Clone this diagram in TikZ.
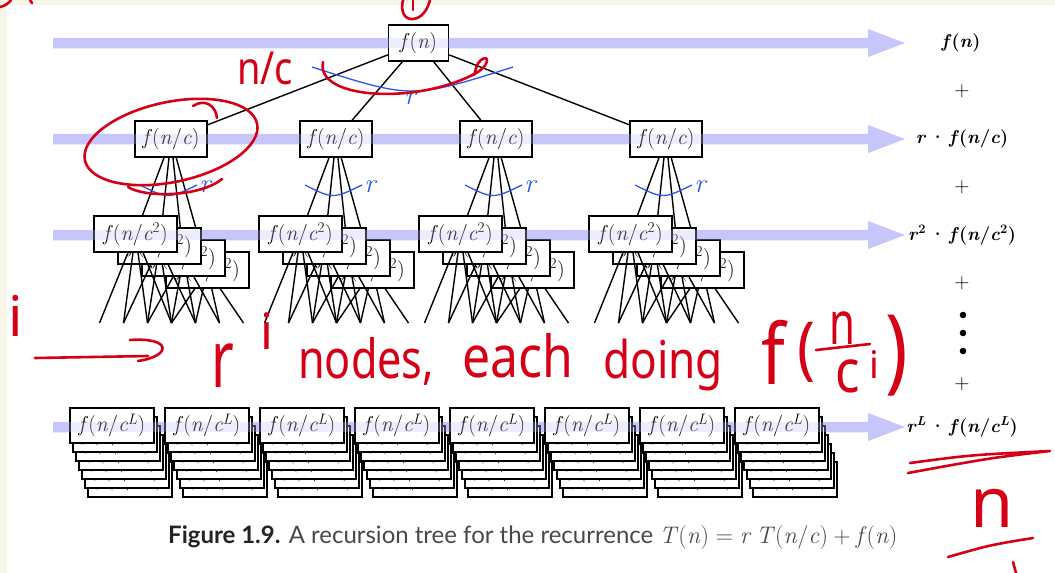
\documentclass[tikz,border=0pt]{standalone}
\usepackage{fontspec}
\newfontfamily\capfont{Lato}
\newfontfamily\handfont{Noto Sans}
\usetikzlibrary{calc}
\definecolor{band}{RGB}{198,198,250}
\definecolor{arcblue}{RGB}{45,85,235}
\definecolor{pen}{RGB}{214,0,22}
\definecolor{cream}{RGB}{247,244,232}
\definecolor{capgray}{RGB}{72,72,72}
\definecolor{capdark}{RGB}{35,35,35}
\newcommand\setfs[1]{\fontsize{#1}{#1}\selectfont}
\newcommand\vi[1]{\textit{#1}}
\newcommand\sups[1]{\textsuperscript{#1}}
\newcommand\cdt{\hspace{0.18em}·\hspace{0.18em}}
\pgfdeclarelayer{bands}
\pgfdeclarelayer{edges}
\pgfsetlayers{bands,edges,main}
\tikzset{
  box/.style={draw, line width=1.5pt, fill=white, inner sep=0pt, minimum height=36pt, font=\setfs{21.5}},
  rootbox/.style={box, minimum width=60pt},
  boxa/.style={box, minimum width=72pt},
  boxb/.style={box, minimum width=83pt},
  boxl/.style={box, minimum width=84pt, minimum height=35pt},
  edge/.style={line width=1.4pt, black},
  redpen/.style={draw=pen, line width=2.6pt, line cap=round, line join=round},
  hand/.style={text=pen, inner sep=0pt, font=\handfont},
  rlabel/.style={font=\setfs{18.5}\bfseries, inner sep=0pt},
  plus/.style={font=\setfs{21}, inner sep=0pt},
  arclab/.style={text=arcblue, font=\setfs{27}\itshape, inner sep=0pt},
  blarc/.style={draw=arcblue, line width=1.3pt},
}
\begin{document}
\begin{tikzpicture}[x=1pt,y=-1pt]
\useasboundingbox (0,0) rectangle (1055,573);
\begin{pgfonlayer}{bands}
\fill[cream] (0,0) rectangle (1055,573);
\fill[white] (7,5) rectangle (1055,573);
\foreach \yy in {43,139,235,427}{
  \fill[band] (53,\yy-5.25) -- (868,\yy-5.25) -- (868,\yy-14) -- (905,\yy) -- (868,\yy+14) -- (868,\yy+5.25) -- (53,\yy+5.25) -- cycle;
}
\end{pgfonlayer}

% root and level 1
\node[rootbox] (root) at (418.5,43) {\vi{f}(\vi{n})};
\foreach \g/\cx in {1/171,2/336,3/496,4/666}{
  \node[boxa] (a\g) at (\cx,139) {\vi{f}(\vi{n}/\vi{c})};
  \draw[edge] (root) -- (a\g);
}

% level 2 stacks
\foreach \g/\cx in {1/171,2/336,3/496,4/666}{
  \foreach \k in {3,2,1,0}{
    \pgfmathsetmacro\bx{\cx-35.5+24*\k}
    \pgfmathsetmacro\by{234+12*\k}
    \node[boxb] (b\g\k) at (\bx,\by) {\vi{f}(\vi{n}/\vi{c}\sups{2})};
    \foreach \j/\d in {1/-36,2/-12,3/12,4/36}{
      \coordinate (e\g\k\j) at (\bx+\d,323);
      \draw[edge] (b\g\k) -- (e\g\k\j);
    }
    \begin{pgfonlayer}{edges}
      \draw[edge] (a\g) -- (b\g\k);
    \end{pgfonlayer}
  }
}

% level L stacks
\foreach \g in {0,...,7}{
  \foreach \k in {6,5,4,3,2,1,0}{
    \pgfmathsetmacro\bx{112+95*\g+3*\k}
    \pgfmathsetmacro\by{425.5+9*\k}
    \node[boxl] (l\g\k) at (\bx,\by) {\vi{f}(\vi{n}/\vi{c}\sups{\vi{L}})};
  }
}

% faint band over boxes
\foreach \yy in {43,139,235,427}{
  \fill[band, opacity=0.3] (53,\yy-5.25) -- (868,\yy-5.25) -- (868,\yy+5.25) -- (53,\yy+5.25) -- cycle;
}

% blue arcs
\draw[blarc] (312,67) .. controls (412,99) .. (513,67);
\node[arclab] (r0) at (410,99) {r};
\foreach \g/\cx in {1/171,2/336,3/496,4/666}{
  \draw[blarc] (\cx-31,185) .. controls (\cx-3,199) .. (\cx+26,185);
  \node[arclab] (r\g) at (\cx+34,187) {r};
}

% right column
\node[rlabel] (s0) at (961,43) {\vi{f}(\vi{n})};
\node[plus] (p1) at (962,91) {+};
\node[rlabel] (s1) at (962,139) {\vi{r}\cdt\vi{f}(\vi{n}/\vi{c})};
\node[plus] (p2) at (962,187) {+};
\node[rlabel] (s2) at (962,235) {\vi{r}\sups{2}\cdt\vi{f}(\vi{n}/\vi{c}\sups{2})};
\node[plus] (p3) at (962,283) {+};
\fill (963,315) circle (3.3) (963,333) circle (3.3) (963,351) circle (3.3);
\node[plus] (p4) at (962,384) {+};
\node[rlabel] (sL) at (962,427) {\vi{r}\sups{\vi{L}}\cdt\vi{f}(\vi{n}/\vi{c}\sups{\vi{L}})};

% caption
\node[anchor=west, inner sep=0pt, font=\capfont\setfs{24}, text=capgray] (cap) at (168,538)
  {{\bfseries\color{capdark}Figure 1.9.} A recursion tree for the recurrence
   {\rmfamily\setfs{24}\vi{T}(\vi{n})\hspace{0.28em}=\hspace{0.28em}\vi{r}\hspace{0.2em}\vi{T}(\vi{n}/\vi{c})\hspace{0.22em}+\hspace{0.22em}\vi{f}(\vi{n})}};

% red annotations
\draw[redpen] (0,7) .. controls (5,6) and (9,3) .. (11,0);
\draw[redpen] (30,0) -- (32,3);
\draw[redpen] (403,0) .. controls (400,12) and (405,20) .. (413,19) .. controls (423,18) and (428,8) .. (430,0);
\draw[redpen] (413,0) -- (413,10);
\node[hand] (hnc) at (265,68) {\scalebox{1}[1.2]{\setfs{38}n/c}};
\draw[redpen] (323,62) .. controls (315,100) and (420,105) .. (478,72) .. controls (490,64) and (489,54) .. (481,60) .. controls (476,64) and (476,70) .. (474,75);
\draw[redpen, rotate around={12:(171,142)}] (171,142) ellipse [x radius=88, y radius=40];
\draw[redpen] (193,106) .. controls (205,98) and (216,106) .. (217,118);
\draw[redpen] (128,187) .. controls (145,198) and (200,197) .. (222,179);
\node[hand] (hi) at (16,316) {\setfs{56}i};
\coordinate (arA) at (35,358);
\coordinate (arB) at (148,356);
\draw[redpen] (arA) -- (arB);
\draw[redpen] (130,340) .. controls (172,337) and (172,356) .. (138,361);
\node[hand] (hr) at (223,366) {\scalebox{1.1}[1.6]{\setfs{50}r}};
\node[hand] (hri) at (267,331) {\setfs{50}i};
\node[hand, anchor=base west] (hnodes) at (298,378) {\scalebox{0.8}[1]{\setfs{54}nodes,}};
\node[hand, anchor=base west] (heach) at (462,377) {\scalebox{0.86}[1]{\setfs{58}each}};
\node[hand, anchor=base west] (hdoing) at (603,378) {\scalebox{0.85}[1]{\setfs{52}doing}};
% f( n / c^i )
\node[hand] (hf) at (773,352) {\scalebox{1.15}[1.4]{\setfs{60}f}};
\node[hand] (hlp) at (806,352) {\scalebox{1}[1.15]{\setfs{60}(}};
\node[hand] (hnum) at (842,328) {\scalebox{0.7}[1]{\setfs{60}n}};
\draw[redpen] (816,350) -- (870,344);
\node[hand] (hden) at (848,376) {\scalebox{0.85}[1]{\setfs{60}c}};
\node[hand] (hexp) at (874,364) {\setfs{38}i};
\node[hand] (hrp) at (897,356) {\scalebox{1.25}[1.55]{\setfs{60})}};
\draw[redpen] (910,463) .. controls (970,455) .. (1050,451) .. controls (990,458) .. (908,473);
\node[hand] (hn) at (992,508) {\setfs{70}n};
\draw[redpen] (948,557) .. controls (990,545) .. (1033,538);
\draw[redpen] (1013,562) -- (1016,573);
\end{tikzpicture}
\end{document}
